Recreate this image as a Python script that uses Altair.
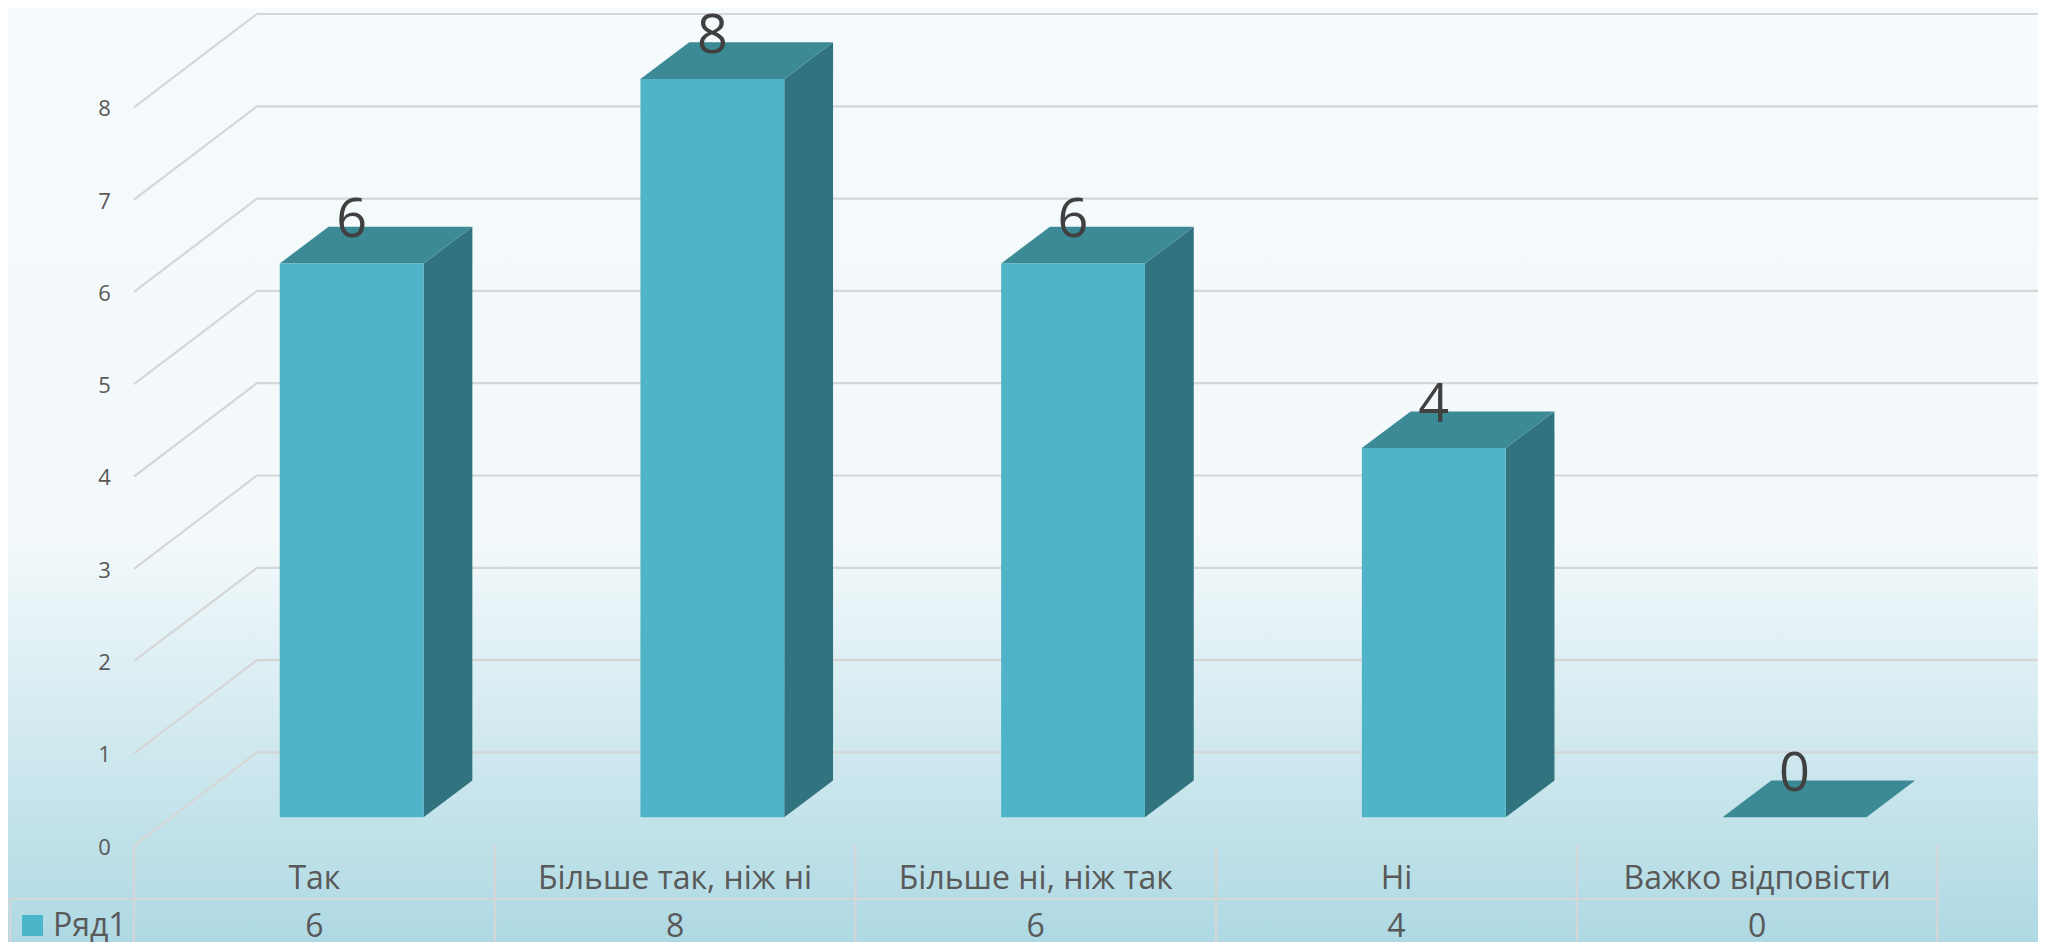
import altair as alt
import pandas as pd

# ---------------- data ----------------
categories = ["Так", "Більше так, ніж ні", "Більше ні, ніж так", "Ні", "Важко відповісти"]
values = [6, 8, 6, 4, 0]
series_name = "Ряд1"
y_ticks = [0, 1, 2, 3, 4, 5, 6, 7, 8]

# ---------------- geometry (in category / value units) ----------------
W, H = 2030, 934
X_DOMAIN = [-0.3493, 5.2786]
Y_DOMAIN = [-1.0433, 9.0758]

BAR_W = 0.3987
DXF, DYF = 0.1034, 0.3077   # bar front face offset into depth
DXB, DYB = 0.1353, 0.3976   # bar depth
DXW, DYW = 0.341, 1.011     # wall depth

FRONT = "#4fb4c8"
SIDE = "#31737f"
TOP = "#3c8a96"
GRID = "#d6d6d6"
TXT = "#595959"
FONT = "Open Sans"

xs = alt.Scale(domain=X_DOMAIN, nice=False, zero=False)
ys = alt.Scale(domain=Y_DOMAIN, nice=False, zero=False)


def X(f, **kw):
    return alt.X(f, type="quantitative", scale=xs, axis=None, **kw)


def Y(f, **kw):
    return alt.Y(f, type="quantitative", scale=ys, axis=None, stack=False, **kw)


# ---------------- tables ----------------
bars = []
side = []
top = []
for i, (c, v) in enumerate(zip(categories, values)):
    left = i + 0.5 - BAR_W / 2 + DXF
    right = i + 0.5 + BAR_W / 2 + DXF
    bars.append(dict(cat=c, val=v, left=left, right=right, y0=DYF, y1=v + DYF,
                     lx=i + 0.5 + DXF, ly=v + 0.59, cx=i + 0.5))
    side.append(dict(cat=c, x=right, lo=DYF, hi=v + DYF))
    side.append(dict(cat=c, x=right + DXB, lo=DYF + DYB, hi=v + DYF + DYB))
    top.append(dict(cat=c, y=v + DYF, xl=left, xr=right))
    top.append(dict(cat=c, y=v + DYF + DYB, xl=left + DXB, xr=right + DXB))
bars_df = pd.DataFrame(bars)
side_df = pd.DataFrame(side)
top_df = pd.DataFrame(top)

grid = []
for t in y_ticks:
    grid.append(dict(t=t, o=0, x=0.0, y=t))
    grid.append(dict(t=t, o=1, x=DXW, y=t + DYW))
    grid.append(dict(t=t, o=2, x=X_DOMAIN[1], y=t + DYW))
grid_df = pd.DataFrame(grid)
ticks_df = pd.DataFrame(dict(t=y_ticks, lab=[str(t) for t in y_ticks]))

ROW_LINE = -0.5775
TABLE_LEFT = -0.3438
vlines_df = pd.DataFrame(dict(x=list(range(len(categories) + 1))))
one = pd.DataFrame(dict(a=[0]))

# ---------------- layers ----------------
bg = alt.Chart(one).mark_rect(
    color=alt.LinearGradient(
        gradient="linear", x1=0, x2=0, y1=0, y2=1,
        stops=[alt.GradientStop(offset=0, color="#f5fbfc"),
               alt.GradientStop(offset=0.57, color="#f3f9fb"),
               alt.GradientStop(offset=1, color="#aed9e3")])
).encode(x=alt.value(0), x2=alt.value(W), y=alt.value(0), y2=alt.value(H))

grid_l = alt.Chart(grid_df).mark_line(color=GRID, strokeWidth=2.2, clip=True).encode(
    x=X("x"), y=Y("y"), detail="t:N", order="o:Q")

tick_l = alt.Chart(ticks_df).mark_text(
    align="right", baseline="middle", font=FONT, fontSize=22, color=TXT, dy=2
).encode(x=alt.datum(-0.064, type="quantitative", scale=xs, axis=None),
         y=Y("t"), text="lab:N")

vlines = alt.Chart(vlines_df).mark_rule(color=GRID, strokeWidth=2.2).encode(
    x=X("x"), y=alt.datum(0, type="quantitative", scale=ys, axis=None),
    y2=alt.datum(Y_DOMAIN[0]))
hline = alt.Chart(one).mark_rule(color=GRID, strokeWidth=2.2).encode(
    x=alt.datum(TABLE_LEFT, type="quantitative", scale=xs, axis=None),
    x2=alt.datum(len(categories)),
    y=alt.datum(ROW_LINE, type="quantitative", scale=ys, axis=None))
lline = alt.Chart(one).mark_rule(color=GRID, strokeWidth=2.2).encode(
    x=alt.datum(TABLE_LEFT, type="quantitative", scale=xs, axis=None),
    y=alt.datum(ROW_LINE, type="quantitative", scale=ys, axis=None),
    y2=alt.datum(Y_DOMAIN[0]))

side_l = alt.Chart(side_df).mark_area(orient="vertical", color=SIDE, interpolate="linear").encode(
    x=X("x"), y=Y("lo"), y2="hi:Q", detail="cat:N")
top_l = alt.Chart(top_df).mark_area(orient="horizontal", color=TOP, interpolate="linear").encode(
    y=Y("y"), x=X("xl"), x2="xr:Q", detail="cat:N")
front_l = alt.Chart(bars_df).mark_rect(color=FRONT).encode(
    x=X("left"), x2="right:Q", y=Y("y0"), y2="y1:Q")

labels = alt.Chart(bars_df).mark_text(
    align="center", baseline="alphabetic", font=FONT, fontSize=54, color="#404040"
).encode(x=X("lx"), y=Y("ly"), text="val:Q")

cat_text = alt.Chart(bars_df).mark_text(
    align="center", baseline="alphabetic", font=FONT, fontSize=32, color=TXT
).encode(x=X("cx"), y=alt.datum(-0.468, type="quantitative", scale=ys, axis=None), text="cat:N")
val_text = alt.Chart(bars_df).mark_text(
    align="center", baseline="alphabetic", font=FONT, fontSize=32, color=TXT
).encode(x=X("cx"), y=alt.datum(-0.984, type="quantitative", scale=ys, axis=None), text="val:Q")

leg_df = pd.DataFrame(dict(name=[series_name]))
leg_sq = alt.Chart(leg_df).mark_rect(color="#4bb5c9").encode(
    x=alt.datum(-0.3105, type="quantitative", scale=xs, axis=None), x2=alt.datum(-0.2523),
    y=alt.datum(-0.7508, type="quantitative", scale=ys, axis=None), y2=alt.datum(-0.9783))
leg_tx = alt.Chart(leg_df).mark_text(
    align="left", baseline="alphabetic", font=FONT, fontSize=32, color=TXT
).encode(x=alt.datum(-0.2246, type="quantitative", scale=xs, axis=None),
         y=alt.datum(-0.978, type="quantitative", scale=ys, axis=None), text="name:N")

chart = alt.layer(
    bg, grid_l, tick_l, vlines, hline, lline,
    side_l, top_l, front_l, labels, cat_text, val_text, leg_sq, leg_tx
).properties(
    width=W, height=H, padding=0, autosize=alt.AutoSizeParams(type="none")
).configure_view(stroke=None)

chart.save("out.html", embed_options={"renderer": "svg", "actions": False})
